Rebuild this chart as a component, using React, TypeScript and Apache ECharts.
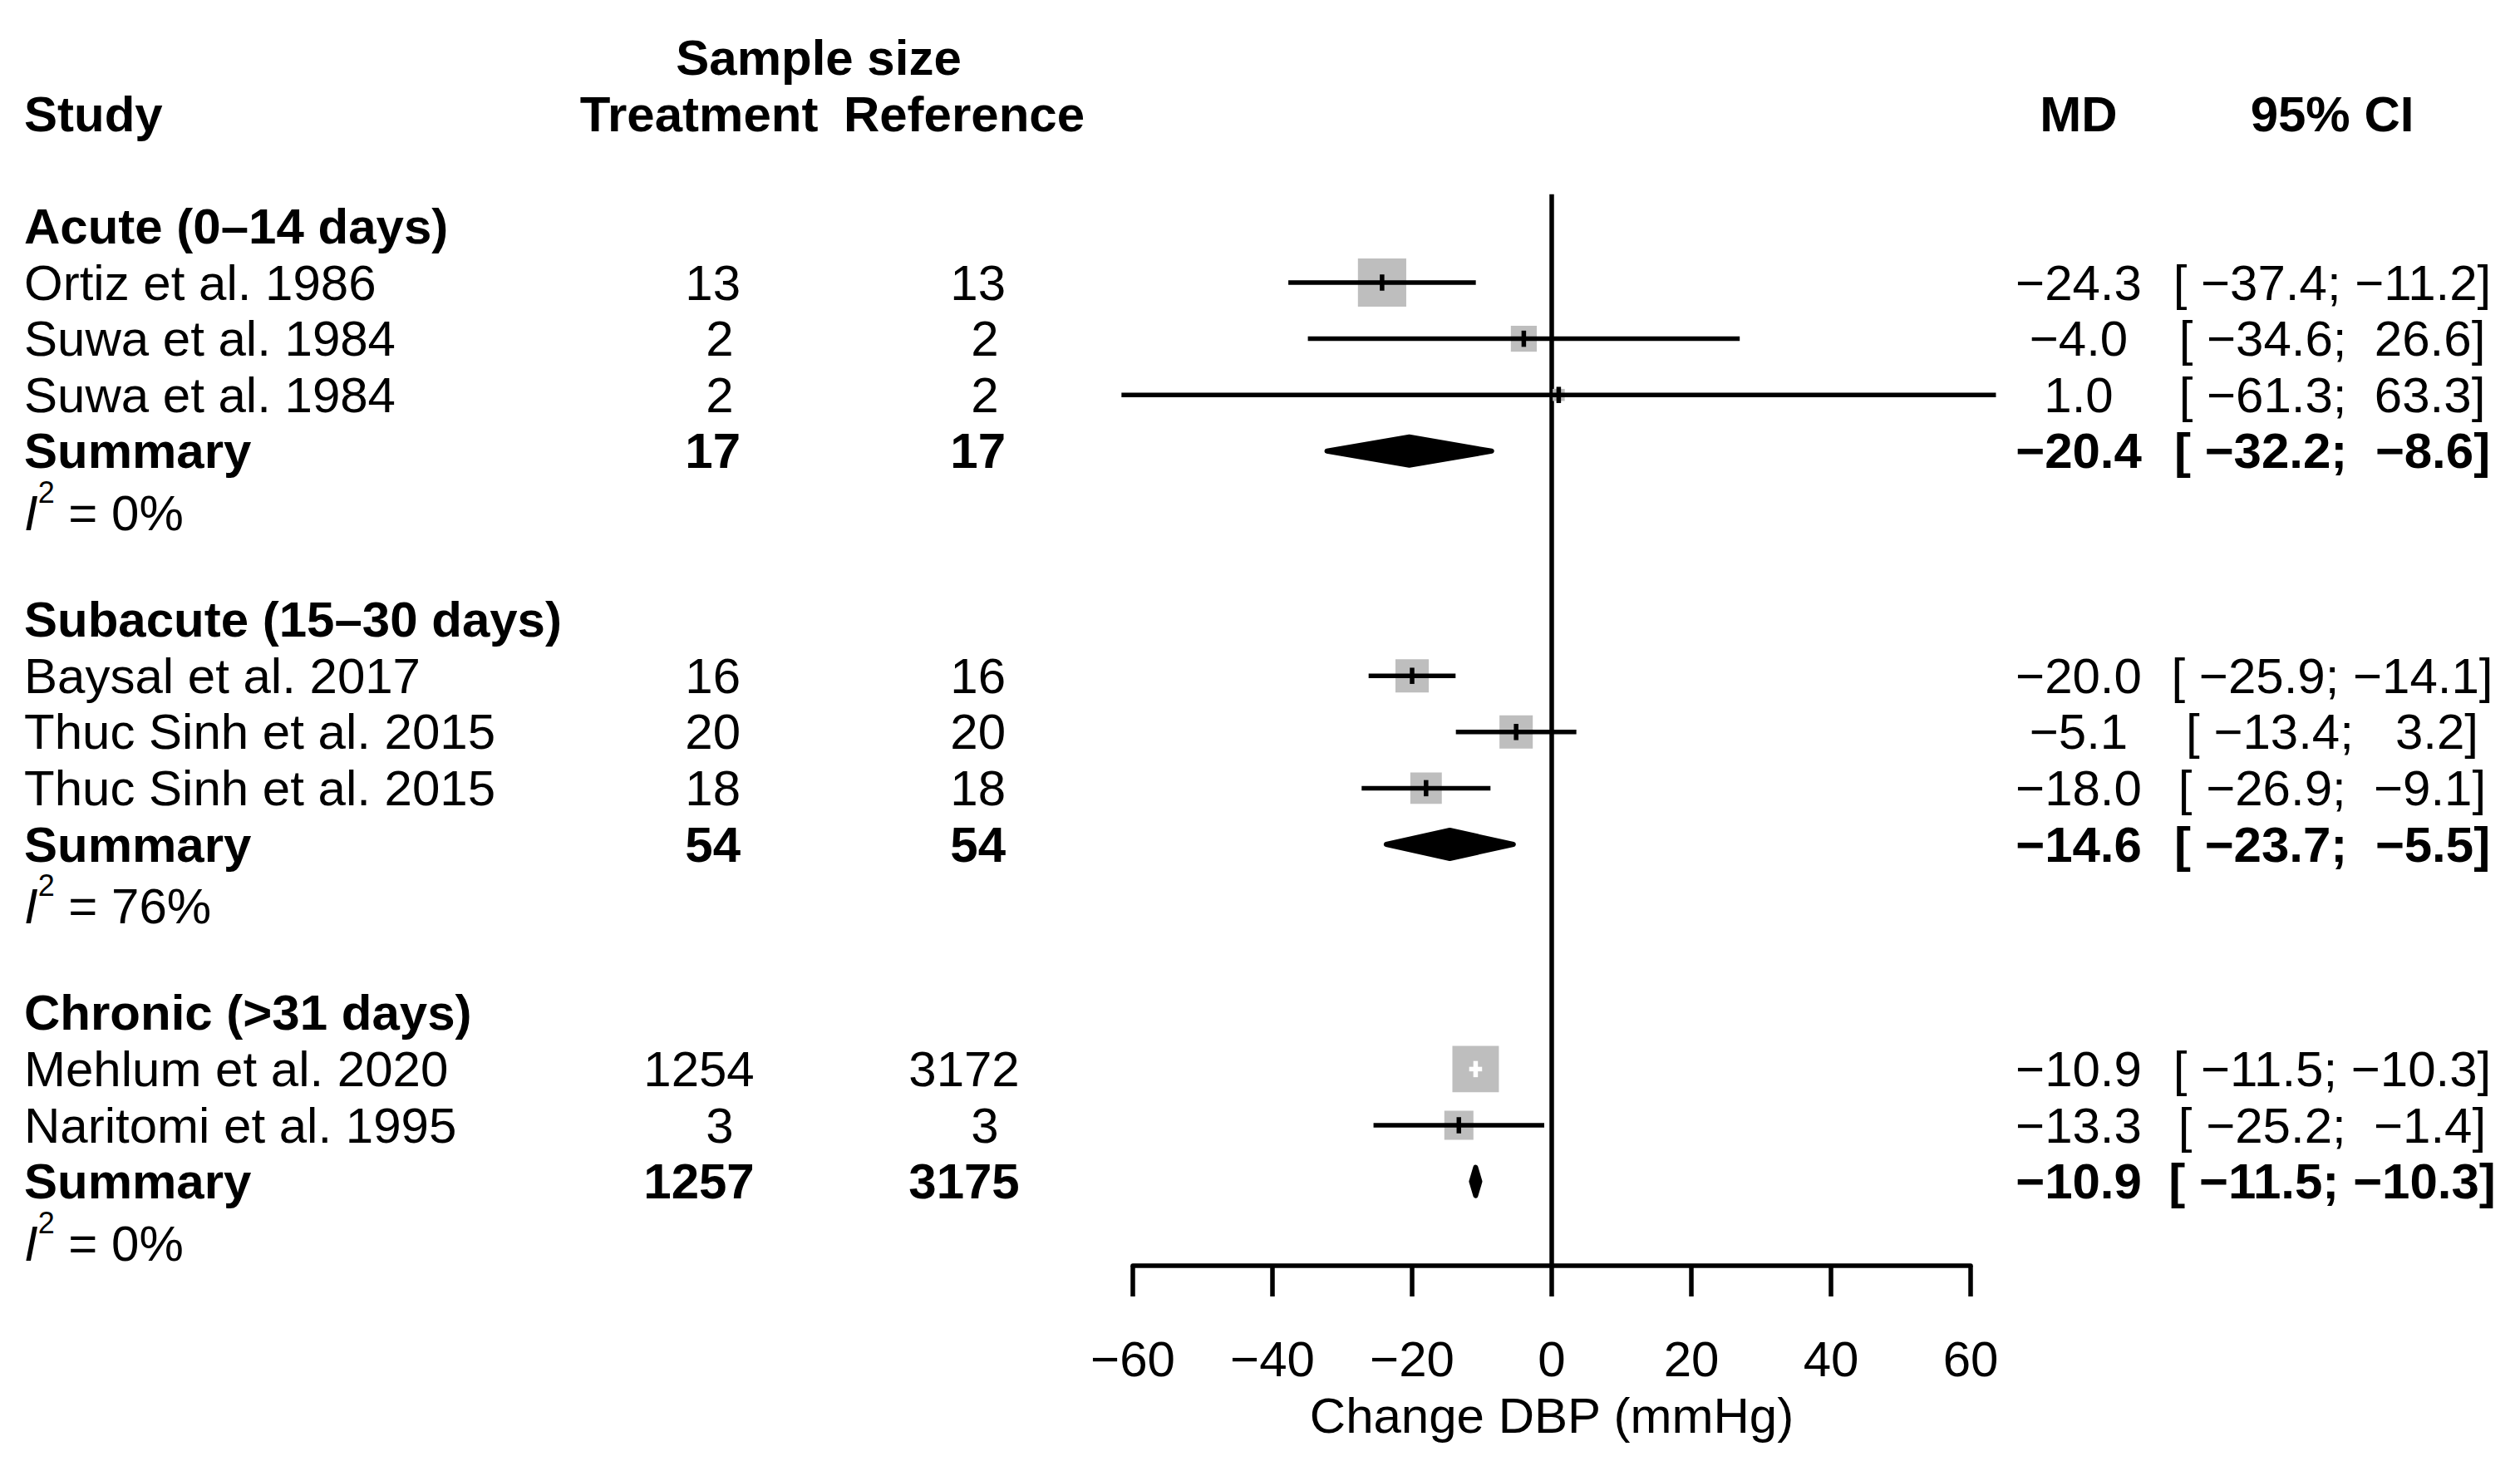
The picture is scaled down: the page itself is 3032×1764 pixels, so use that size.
import React, { useEffect, useRef } from "react";
import * as echarts from "echarts";

// ---------------- data ----------------
const groupLabels = ["Acute (0–14 days)", "Subacute (15–30 days)", "Chronic (>31 days)"];
const studyLabels = [
  "Ortiz et al. 1986",
  "Suwa et al. 1984",
  "Suwa et al. 1984",
  "Baysal et al. 2017",
  "Thuc Sinh et al. 2015",
  "Thuc Sinh et al. 2015",
  "Mehlum et al. 2020",
  "Naritomi et al. 1995",
];
const studyGroup = [0, 0, 0, 1, 1, 1, 2, 2];
const treatN = [13, 2, 2, 16, 20, 18, 1254, 3];
const refN = [13, 2, 2, 16, 20, 18, 3172, 3];
const studyMD = [-24.3, -4.0, 1.0, -20.0, -5.1, -18.0, -10.9, -13.3];
const studyLower = [-37.4, -34.6, -61.3, -25.9, -13.4, -26.9, -11.5, -25.2];
const studyUpper = [-11.2, 26.6, 63.3, -14.1, 3.2, -9.1, -10.3, -1.4];
// weights (%) estimated from square areas
const studyWeight = [80, 23, 5, 38, 38, 34, 74, 29];
const summaryTreatN = [17, 54, 1257];
const summaryRefN = [17, 54, 3175];
const summaryMD = [-20.4, -14.6, -10.9];
const summaryLower = [-32.2, -23.7, -11.5];
const summaryUpper = [-8.6, -5.5, -10.3];
const heterogeneity = ["0%", "76%", "0%"];
const xTicks = [-60, -40, -20, 0, 20, 40, 60];
const xTitle = "Change DBP (mmHg)";

// ---------------- layout helpers ----------------
const FONT = "'Liberation Sans', Arial, Helvetica, sans-serif";
const FS = 60;
const LW = 5.5;
const STUDY_X = 29;
const TREAT_X = 841;
const REF_X = 1160;
const SAMPLE_X = 985;
const MD_X = 2501;
const CI_X = 2806;

const NB = "\u00A0";
const fmt = (v: number) => v.toFixed(1).replace("-", "−");
const pad = (s: string, w: number) => s.padStart(w, NB);
const ciText = (lo: number, hi: number) => `[${pad(fmt(lo), 6)};${pad(fmt(hi), 6)}]`;

// assign rows
const groupRow: number[] = [];
const studyRow: number[] = [];
const summaryRow: number[] = [];
const i2Row: number[] = [];
(() => {
  let r = 2;
  for (let g = 0; g < groupLabels.length; g++) {
    groupRow.push(r);
    r++;
    for (let i = 0; i < studyLabels.length; i++) {
      if (studyGroup[i] === g) {
        studyRow[i] = r;
        r++;
      }
    }
    summaryRow.push(r);
    r++;
    i2Row.push(r);
    r += 2;
  }
})();

export default function App() {
  const ref = useRef<HTMLDivElement>(null);

  useEffect(() => {
    document.body.style.margin = "0";
    const chart = echarts.init(ref.current!, null, { renderer: "svg" });

    const studyData = studyMD.map((m, i) => [m, studyLower[i], studyUpper[i], studyRow[i], studyWeight[i]]);
    const summaryData = summaryMD.map((m, g) => [m, summaryLower[g], summaryUpper[g], summaryRow[g]]);

    const option: any = {
      animation: false,
      backgroundColor: "#ffffff",
      grid: { left: 1363, top: 2, width: 1008, height: 1521, containLabel: false },
      xAxis: {
        type: "value",
        min: -60,
        max: 60,
        interval: 20,
        axisLine: { show: true, onZero: false, lineStyle: { color: "#000", width: LW } },
        axisTick: { show: true, inside: false, length: 37, lineStyle: { color: "#000", width: LW } },
        splitLine: { show: false },
        axisLabel: {
          show: true,
          color: "#000",
          fontSize: FS,
          fontFamily: FONT,
          margin: 82,
          formatter: (v: number) => (xTicks.includes(v) ? String(v).replace("-", "−") : ""),
        },
        name: xTitle,
        nameLocation: "middle",
        nameGap: 150,
        nameTextStyle: { color: "#000", fontSize: FS, fontFamily: FONT },
      },
      yAxis: {
        type: "value",
        inverse: true,
        min: -2,
        max: 20.5,
        show: false,
        axisLine: { onZero: false },
        splitLine: { show: false },
      },
      series: [
        {
          type: "line",
          silent: true,
          symbol: "none",
          z: 1,
          data: [
            [0, 1.43],
            [0, 20.5],
          ],
          lineStyle: { color: "#000", width: LW },
        },
        {
          type: "custom",
          clip: false,
          z: 3,
          data: studyData,
          encode: { x: [0, 1, 2], y: 3 },
          renderItem: (params: any, api: any) => {
            const row = api.value(3);
            const est = api.coord([api.value(0), row]);
            const lo = api.coord([api.value(1), row]);
            const hi = api.coord([api.value(2), row]);
            const side = 6.5 * Math.sqrt(api.value(4));
            const inside = lo[0] >= est[0] - side / 2 && hi[0] <= est[0] + side / 2;
            const c = inside ? "#ffffff" : "#000000";
            return {
              type: "group",
              children: [
                {
                  type: "rect",
                  shape: { x: est[0] - side / 2, y: est[1] - side / 2, width: side, height: side },
                  style: { fill: "#BEBEBE" },
                },
                {
                  type: "line",
                  shape: { x1: lo[0], y1: est[1], x2: hi[0], y2: est[1] },
                  style: { stroke: c, lineWidth: LW, lineCap: "square" },
                },
                {
                  type: "line",
                  shape: { x1: est[0], y1: est[1] - 7, x2: est[0], y2: est[1] + 7 },
                  style: { stroke: c, lineWidth: LW, lineCap: "square" },
                },
              ],
            };
          },
        },
        {
          type: "custom",
          clip: false,
          z: 3,
          data: summaryData,
          encode: { x: [0, 1, 2], y: 3 },
          renderItem: (params: any, api: any) => {
            const row = api.value(3);
            const est = api.coord([api.value(0), row]);
            const lo = api.coord([api.value(1), row]);
            const hi = api.coord([api.value(2), row]);
            const h = 17;
            return {
              type: "polygon",
              shape: {
                points: [
                  [lo[0], est[1]],
                  [est[0], est[1] - h],
                  [hi[0], est[1]],
                  [est[0], est[1] + h],
                ],
              },
              style: { fill: "#000", stroke: "#000", lineWidth: 6, lineJoin: "round" },
            };
          },
        },
      ],
    };

    chart.setOption(option);

    const yOf = (row: number) => (chart.convertToPixel({ gridIndex: 0 }, [0, row]) as number[])[1];
    const txt = (
      text: string,
      x: number,
      y: number,
      align: string,
      bold = false
    ) => ({
      type: "text",
      x,
      y,
      silent: true,
      style: {
        text,
        fontSize: FS,
        fontFamily: FONT,
        fontWeight: bold ? "bold" : "normal",
        fill: "#000",
        align,
        verticalAlign: "middle",
      },
    });

    const els: any[] = [];
    // headers
    els.push(txt("Sample size", SAMPLE_X, yOf(-1), "center", true));
    els.push(txt("Study", STUDY_X, yOf(0), "left", true));
    els.push(txt("Treatment", TREAT_X, yOf(0), "center", true));
    els.push(txt("Reference", REF_X, yOf(0), "center", true));
    els.push(txt("MD", MD_X, yOf(0), "center", true));
    els.push(txt("95% CI", CI_X, yOf(0), "center", true));

    groupLabels.forEach((g, gi) => {
      els.push(txt(g, STUDY_X, yOf(groupRow[gi]), "left", true));
      const ys = yOf(summaryRow[gi]);
      els.push(txt("Summary", STUDY_X, ys, "left", true));
      els.push(txt(pad(String(summaryTreatN[gi]), 4), TREAT_X, ys, "center", true));
      els.push(txt(pad(String(summaryRefN[gi]), 4), REF_X, ys, "center", true));
      els.push(txt(fmt(summaryMD[gi]), MD_X, ys, "center", true));
      els.push(txt(ciText(summaryLower[gi], summaryUpper[gi]), CI_X, ys, "center", true));
      els.push({
        type: "text",
        x: STUDY_X,
        y: yOf(i2Row[gi]) + 7,
        silent: true,
        style: {
          text: `{i|I}{s|2}{n| = ${heterogeneity[gi]}}`,
          fontSize: FS,
          fontFamily: FONT,
          fill: "#000",
          align: "left",
          verticalAlign: "middle",
          rich: {
            i: { fontStyle: "italic", fontSize: FS, fontFamily: FONT, fill: "#000", lineHeight: 86 },
            s: { fontSize: 36, fontFamily: FONT, fill: "#000", verticalAlign: "top", lineHeight: 36 },
            n: { fontSize: FS, fontFamily: FONT, fill: "#000", lineHeight: 86 },
          },
        },
      });
    });

    studyLabels.forEach((s, i) => {
      const y = yOf(studyRow[i]);
      els.push(txt(s, STUDY_X, y, "left"));
      els.push(txt(pad(String(treatN[i]), 4), TREAT_X, y, "center"));
      els.push(txt(pad(String(refN[i]), 4), REF_X, y, "center"));
      els.push(txt(fmt(studyMD[i]), MD_X, y, "center"));
      els.push(txt(ciText(studyLower[i], studyUpper[i]), CI_X, y, "center"));
    });

    chart.setOption({ graphic: { elements: els } });

    return () => chart.dispose();
  }, []);

  return <div ref={ref} style={{ width: 3032, height: 1764 }} />;
}
